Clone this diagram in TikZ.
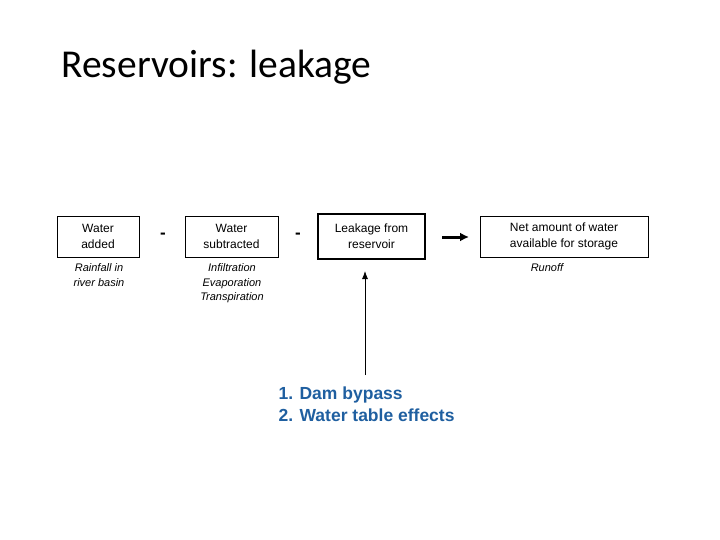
\documentclass[tikz,border=0pt]{standalone}
\usepackage{fontspec}
\setmainfont{Liberation Sans}
\newfontfamily\titlefont{Carlito}
\usetikzlibrary{positioning,arrows.meta}
\tikzset{
  box/.style={draw, thin, minimum height=41pt, align=center, font=\fontsize{12}{16}\selectfont},
  note/.style={align=center, font=\fontsize{11}{14.5}\selectfont\itshape},
  minus/.style={font=\bfseries\fontsize{17}{18}\selectfont}
}
\definecolor{causeblue}{RGB}{31,95,160}
\begin{document}
\begin{tikzpicture}[x=1pt, y=-1pt]
    \useasboundingbox (0,0) rectangle (720,540);
    % Title
    \node[anchor=west, font=\titlefont\fontsize{39.5}{44}\selectfont] (title) at (58,67) {Reservoirs: leakage};
    
    % Boxes
    \node[box, minimum width=82pt] (added) at (98,236.5) {Water\\added};
    \node[box, minimum width=93pt] (sub) at (231.5,236.5) {Water\\subtracted};
    \node[box, very thick, minimum width=107pt, minimum height=45pt] (leak) at (371.5,236.5) {Leakage from\\reservoir};
    \node[box, minimum width=168pt] (net) at (564,236.5) {Net amount of water\\available for storage};
    
    % Minus signs
    \node[minus] (m1) at (163,236) {-};
    \node[minus] (m2) at (298,236) {-};
    
    % Notes
    \node[note, anchor=north] (nadded) at (99,260) {Rainfall in\\river basin};
    \node[note, anchor=north] (nsub) at (232,260) {Infiltration\\Evaporation\\Transpiration};
    \node[note, anchor=north] (nnet) at (547,260) {Runoff};
    
    % Causes
    \node[anchor=north west, align=left, text=causeblue, font=\bfseries\fontsize{17.5}{22}\selectfont] (causes) at (275,383) {1. Dam bypass\\2. Water table effects};
    \coordinate (cbot) at (365,375);
    \coordinate (ctop) at (365,271);
    \coordinate (al) at (442,237);
    \coordinate (ar) at (469,237);
    
    % Arrows
    \draw[-{Latex[length=9pt,width=9pt]}, line width=3pt] (al) -- (ar);
    \draw[-{Latex[length=8pt,width=6pt]}, thick] (cbot) -- (ctop);
\end{tikzpicture}
\end{document}
